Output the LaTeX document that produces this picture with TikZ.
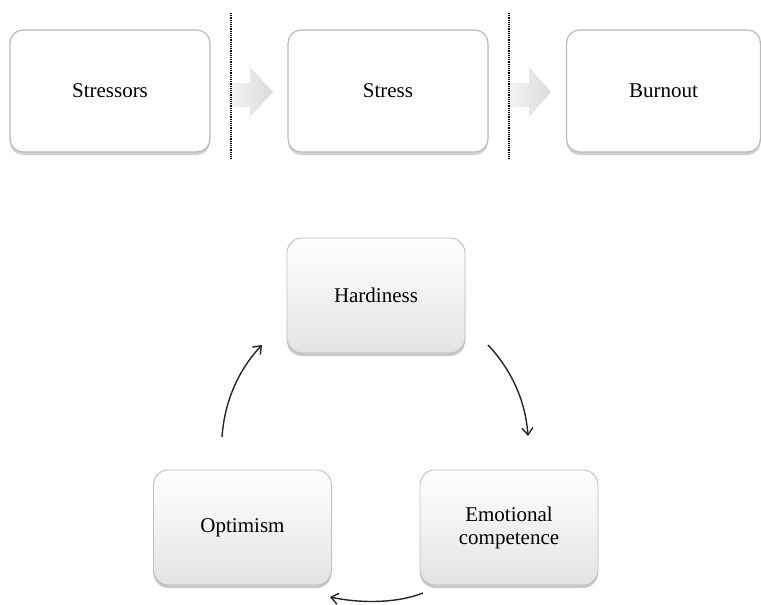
\documentclass[tikz,border=0pt]{standalone}
\usepackage{fontspec}
\setmainfont{Liberation Serif}
\usetikzlibrary{shadows,arrows.meta}
\begin{document}
\begin{tikzpicture}[x=1pt,y=-1pt,
  txt/.style={font=\fontsize{21}{23}\selectfont, align=center, text=black},
  topbox/.style={txt, draw=gray!55, line width=1.2pt, fill=white, rounded corners=13pt,
     minimum width=200pt, minimum height=122pt,
     drop shadow={shadow xshift=0pt, shadow yshift=-3pt, opacity=0.45, fill=gray!80}},
  cycbox/.style={txt, draw=gray!50, line width=0.9pt, top color=white, bottom color=gray!22,
     rounded corners=15pt, minimum width=178pt, minimum height=115pt,
     drop shadow={shadow xshift=0pt, shadow yshift=-3pt, opacity=0.5, fill=gray!85}},
  cyc/.style={line width=1.4pt, black!85, -{Straight Barb[length=7pt,width=11pt,line width=1.4pt]}},
  sep/.style={densely dotted, line width=1.2pt, black},
  blockarrow/.style={left color=gray!8, right color=gray!28, draw=none}
]
\useasboundingbox[fill=white] (0,0) rectangle (761,605);

% top row
\node[topbox] (stressors) at (110,91) {Stressors};
\node[topbox] (stress) at (388,91) {Stress};
\node[topbox, minimum width=194pt] (burnout) at (663.5,91) {Burnout};

% block arrows
\path[blockarrow] (227,83) -- (250,83) -- (250,67) -- (273,92) -- (250,117) -- (250,107) -- (227,107) -- cycle;
\path[blockarrow] (507,83) -- (529,83) -- (529,67) -- (551,92) -- (529,117) -- (529,107) -- (507,107) -- cycle;

% dotted separators
\coordinate (d1a) at (231,13); \coordinate (d1b) at (231,160);
\coordinate (d2a) at (509,13); \coordinate (d2b) at (509,160);
\draw[sep] (d1a) -- (d1b);
\draw[sep] (d2a) -- (d2b);

% cycle
\node[cycbox] (hard) at (376,295.5) {Hardiness};
\node[cycbox] (opt) at (242.5,527.5) {Optimism};
\node[cycbox] (emo) at (509,527.5) {Emotional\\competence};

\coordinate (a1s) at (222,437); \coordinate (a1e) at (262,345);
\coordinate (a2s) at (488,345); \coordinate (a2e) at (528,436);
\coordinate (a3s) at (423,593); \coordinate (a3e) at (330,597);
\draw[cyc] (a1s) .. controls (225,395) and (243,365) .. (a1e);
\draw[cyc] (a2s) .. controls (507,365) and (525,395) .. (a2e);
\draw[cyc] (a3s) .. controls (395,604) and (358,603) .. (a3e);
\end{tikzpicture}
\end{document}
